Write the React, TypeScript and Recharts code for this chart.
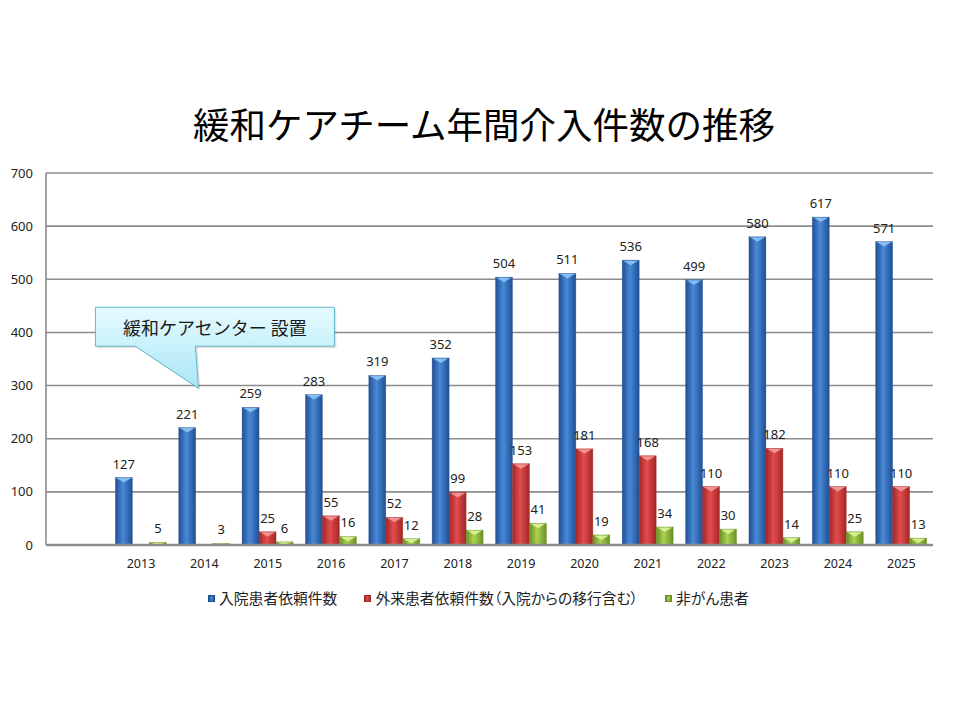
import React from 'react';
import {
  BarChart,
  Bar,
  XAxis,
  YAxis,
  CartesianGrid,
  LabelList,
  ReferenceDot,
} from 'recharts';

/* ------------------------------------------------------------------ */
/*  Data                                                               */
/* ------------------------------------------------------------------ */

// first slot is an empty category, as in the original sheet
const YEARS = ['', '2013', '2014', '2015', '2016', '2017', '2018', '2019', '2020', '2021', '2022', '2023', '2024', '2025'];
const INPATIENT = [null, 127, 221, 259, 283, 319, 352, 504, 511, 536, 499, 580, 617, 571];
const OUTPATIENT = [null, null, null, 25, 55, 52, 99, 153, 181, 168, 110, 182, 110, 110];
const NON_CANCER = [null, 5, 3, 6, 16, 12, 28, 41, 19, 34, 30, 14, 25, 13];
const Y_TICKS = [0, 100, 200, 300, 400, 500, 600, 700];

const TITLE = '緩和ケアチーム年間介入件数の推移';
const CALLOUT_TEXT = '緩和ケアセンター 設置';
const CALLOUT_YEAR = '2014';
const CALLOUT_VALUE = 295;

const SERIES = [
  { key: 'inpatient', label: '入院患者依頼件数', edge: '#1f4f93', mid: '#4a89d8', cap: '#8cc4f4' },
  { key: 'outpatient', label: '外来患者依頼件数（入院からの移行含む）', edge: '#a32626', mid: '#e34c4c', cap: '#f49a9a' },
  { key: 'noncancer', label: '非がん患者', edge: '#6a8f24', mid: '#a9d353', cap: '#dcf39a' },
];

const data = YEARS.map((year, i) => ({
  year,
  inpatient: INPATIENT[i],
  outpatient: OUTPATIENT[i],
  noncancer: NON_CANCER[i],
}));

const FONT = '"Noto Sans", "Noto Sans CJK JP", sans-serif';
const JP_FONT = '"Noto Sans CJK JP", sans-serif';
const GRID = '#8c8c8c';

/* ------------------------------------------------------------------ */
/*  Bevelled bar                                                       */
/* ------------------------------------------------------------------ */

function makeBevelBar(key: string, cap: string, edge: string) {
  return function BevelBar(props: any) {
    const { x, y, width, height } = props;
    if (!height || height <= 0) return null;
    const tri = Math.min(5, height);
    return (
      <g>
        <rect x={x} y={y} width={width} height={height} fill={`url(#grad-${key})`} />
        <polygon
          points={`${x + 1},${y + 0.5} ${x + width - 1},${y + 0.5} ${x + width / 2},${y + tri}`}
          fill={cap}
          opacity={0.9}
        />
        <rect x={x} y={y} width={width} height={height} fill="none" stroke={edge} strokeOpacity={0.5} strokeWidth={0.6} />
      </g>
    );
  };
}

/* ------------------------------------------------------------------ */
/*  Callout                                                            */
/* ------------------------------------------------------------------ */

function Callout(props: any) {
  const { cx: dotX, cy } = props;
  if (dotX == null || cy == null) return null;
  const cx = dotX - 6; // tip sits a little left of the 2014 column centre
  const left = cx - 103;
  const right = cx + 136;
  const top = cy - 81;
  const bottom = cy - 42;
  const path = [
    `M${left},${top}`,
    `L${right},${top}`,
    `L${right},${bottom}`,
    `L${cx - 3},${bottom}`,
    `L${cx},${cy}`,
    `L${cx - 63},${bottom}`,
    `L${left},${bottom}`,
    'Z',
  ].join(' ');
  return (
    <g>
      <path d={path} transform="translate(2,2)" fill="#000" opacity={0.12} />
      <path d={path} fill="url(#grad-callout)" stroke="#62b8cc" strokeWidth={1} />
      <text
        x={(left + right) / 2}
        y={(top + bottom) / 2}
        textAnchor="middle"
        dominantBaseline="central"
        fontSize={18}
        fontFamily={JP_FONT}
        fill="#1a1a1a"
      >
        {CALLOUT_TEXT}
      </text>
    </g>
  );
}

/* ------------------------------------------------------------------ */
/*  Legend                                                             */
/* ------------------------------------------------------------------ */

function ChartLegend() {
  return (
    <div
      style={{
        position: 'absolute',
        left: 208,
        top: 588,
        display: 'flex',
        alignItems: 'center',
        gap: 27,
        fontFamily: JP_FONT,
        fontSize: 14.8,
        lineHeight: '20px',
        color: '#222',
        whiteSpace: 'nowrap',
        fontFeatureSettings: '"palt"',
      }}
    >
      {SERIES.map((s) => (
        <div key={s.key} style={{ display: 'flex', alignItems: 'center', gap: 4 }}>
          <span
            style={{
              width: 7,
              height: 7,
              border: `1px solid ${s.edge}`,
              background: `linear-gradient(90deg, ${s.edge}, ${s.mid} 50%, ${s.edge})`,
              boxSizing: 'border-box',
            }}
          />
          <span>{s.label}</span>
        </div>
      ))}
    </div>
  );
}

/* ------------------------------------------------------------------ */
/*  App                                                                */
/* ------------------------------------------------------------------ */

const LABEL_STYLE = { fontSize: 13, fill: '#222', fontFamily: FONT };

export default function App() {
  return (
    <div style={{ position: 'absolute', left: 0, top: 0, width: 960, height: 720, background: '#fff' }}>
      <div
        style={{
          position: 'absolute',
          left: 0,
          top: 102,
          width: 968,
          textAlign: 'center',
          fontFamily: JP_FONT,
          fontSize: 36.5,
          lineHeight: '44px',
          color: '#000',
        }}
      >
        {TITLE}
      </div>

      <BarChart
        width={960}
        height={720}
        data={data}
        margin={{ top: 173, right: 27, bottom: 145, left: 0 }}
        barGap={0}
        barSize={17}
      >
        <defs>
          {SERIES.map((s) => (
            <linearGradient key={s.key} id={`grad-${s.key}`} x1="0" y1="0" x2="1" y2="0">
              <stop offset="0%" stopColor={s.edge} />
              <stop offset="45%" stopColor={s.mid} />
              <stop offset="100%" stopColor={s.edge} />
            </linearGradient>
          ))}
          <linearGradient id="grad-callout" x1="0" y1="0" x2="0" y2="1">
            <stop offset="0%" stopColor="#e6fbff" />
            <stop offset="100%" stopColor="#a9e6f7" />
          </linearGradient>
        </defs>

        <CartesianGrid vertical={false} stroke={GRID} strokeWidth={1.6} />
        <XAxis
          dataKey="year"
          tickLine={false}
          axisLine={{ stroke: GRID, strokeWidth: 2.5 }}
          tick={{ fontSize: 12.5, fill: '#222', fontFamily: FONT }}
          tickMargin={8}
          interval={0}
        />
        <YAxis
          domain={[0, 700]}
          ticks={Y_TICKS}
          width={46}
          tickLine={false}
          axisLine={{ stroke: GRID, strokeWidth: 1.6 }}
          tick={{ fontSize: 13, fill: '#222', fontFamily: FONT }}
          tickMargin={7}
        />
        <YAxis
          yAxisId="frame"
          orientation="right"
          width={0}
          tick={false}
          tickLine={false}
          axisLine={{ stroke: GRID, strokeWidth: 1.6 }}
        />

        {SERIES.map((s) => (
          <Bar
            key={s.key}
            dataKey={s.key}
            name={s.label}
            fill={s.mid}
            shape={makeBevelBar(s.key, s.cap, s.edge)}
            isAnimationActive={false}
          >
            <LabelList dataKey={s.key} position="top" offset={9} style={LABEL_STYLE} />
          </Bar>
        ))}

        <ReferenceDot x={CALLOUT_YEAR} y={CALLOUT_VALUE} shape={<Callout />} ifOverflow="visible" />
      </BarChart>

      <ChartLegend />
    </div>
  );
}
